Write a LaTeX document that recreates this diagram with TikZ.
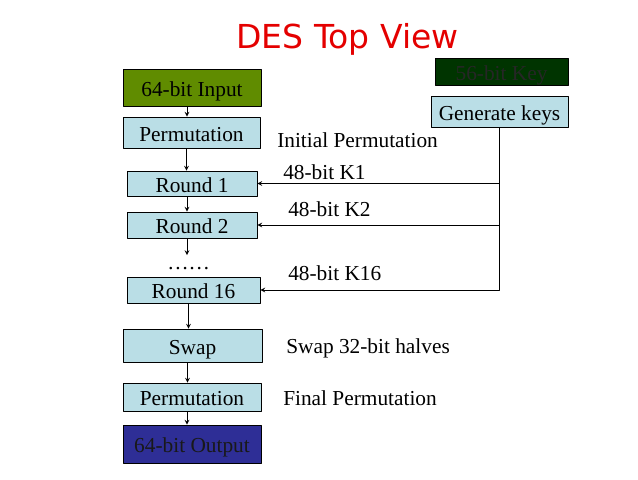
\documentclass[tikz,border=0pt]{standalone}
\usepackage{fontspec}
\setmainfont{Liberation Serif}
\newfontfamily\titlefont{DejaVu Sans}
\usetikzlibrary{arrows}
\definecolor{boxblue}{RGB}{186,222,230}
\definecolor{inputgreen}{RGB}{96,140,0}
\definecolor{keygreen}{RGB}{0,52,0}
\definecolor{outnavy}{RGB}{46,46,150}
\definecolor{titlered}{RGB}{228,0,0}

\begin{document}
\begin{tikzpicture}[line cap=round,line join=round,>=stealth,x=0.75pt,y=-0.75pt,
  box/.style={draw=black,line width=0.6pt,inner sep=0pt,text height=13pt,text depth=0pt,font=\fontsize{16}{19}\selectfont},
  lbl/.style={anchor=base west,inner sep=0pt,font=\fontsize{16}{19}\selectfont}]
\useasboundingbox (0,0) rectangle (638,479);
\node[anchor=base,text=titlered,font=\titlefont\fontsize{24.75}{28}\selectfont] (title) at (347.5,48) {DES Top View};
%
% main column
\node[box,fill=inputgreen,minimum width=103.5pt,minimum height=27.75pt] (inp) at (192,87.5) {64-bit Input};
\node[box,fill=boxblue,minimum width=102.75pt,minimum height=23.25pt] (perm1) at (191.5,132.5) {Permutation};
\node[box,fill=boxblue,minimum width=97.5pt,minimum height=18.75pt] (r1) at (192,183.5) {Round 1};
\node[box,fill=boxblue,minimum width=97.5pt,minimum height=19.5pt] (r2) at (192,225) {Round 2};
\node[lbl] (dots) at (167,269) {……};
\node[box,fill=boxblue,minimum width=99.75pt,minimum height=19.5pt] (r16) at (193.5,290) {Round 16};
\node[box,fill=boxblue,minimum width=104.25pt,minimum height=24.75pt] (swap) at (192.5,345.5) {Swap};
\node[box,fill=boxblue,minimum width=103.5pt,minimum height=21pt] (perm2) at (192,397) {Permutation};
\node[box,fill=outnavy,text=black!90,minimum width=103.5pt,minimum height=28.5pt] (out) at (192,444) {64-bit Output};
\coordinate (gap) at (187,255);
\foreach \a/\b in {inp/perm1,perm1/r1,r1/r2,r16/swap,swap/perm2,perm2/out}
  \draw[->,line width=0.6pt] ([xshift=-3.75pt]\a.south) -- ([xshift=-3.75pt]\a.south |- \b.north);
\draw[->,line width=0.6pt] ([xshift=-3.75pt]r2.south) -- (gap);
%
% key schedule
\node[box,fill=keygreen,text=black!85,minimum width=99.75pt,minimum height=20.25pt] (key) at (501.5,71.5) {56-bit Key};
\node[box,fill=boxblue,minimum width=102.75pt,minimum height=23.25pt] (gen) at (499.5,111.5) {Generate keys};
\draw[->,line width=0.6pt] (gen.south) |- (r16.east);
\draw[->,line width=0.6pt] (gen.south |- r1.east) -- (r1.east);
\draw[->,line width=0.6pt] (gen.south |- r2.east) -- (r2.east);
%
% side labels
\node[lbl] (ip) at (277,147) {Initial Permutation};
\node[lbl] (k1) at (283,179) {48-bit K1};
\node[lbl] (k2) at (288,216) {48-bit K2};
\node[lbl] (k16) at (288,280) {48-bit K16};
\node[lbl] (sw) at (286,353) {Swap 32-bit halves};
\node[lbl] (fp) at (283,405) {Final Permutation};
\end{tikzpicture}
\end{document}
